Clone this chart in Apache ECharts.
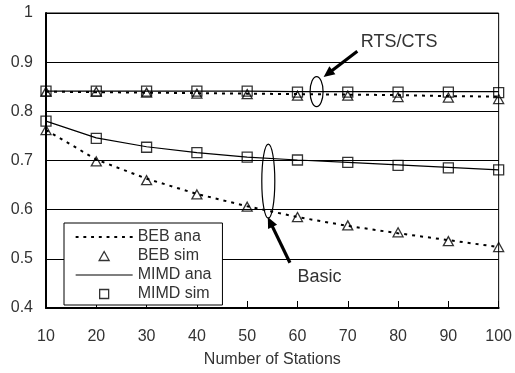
<!DOCTYPE html>
<html>
<head>
<meta charset="utf-8">
<script src="https://cdn.jsdelivr.net/npm/echarts@6/dist/echarts.min.js"></script>
<style>
html,body{margin:0;padding:0;background:#fff;}
#chart{width:515px;height:373px;}
</style>
</head>
<body>
<div id="chart"></div>
<script>
// ---- data ----
const stations = [10, 20, 30, 40, 50, 60, 70, 80, 90, 100];
const yTicks = [0.4, 0.5, 0.6, 0.7, 0.8, 0.9, 1];

// RTS/CTS
const rtsBebAna  = [0.840, 0.839, 0.838, 0.837, 0.836, 0.835, 0.834, 0.833, 0.831, 0.830];
const rtsBebSim  = [0.840, 0.840, 0.838, 0.836, 0.835, 0.832, 0.832, 0.829, 0.828, 0.825];
const rtsMimdAna = [0.841, 0.841, 0.841, 0.841, 0.841, 0.840, 0.840, 0.840, 0.840, 0.840];
const rtsMimdSim = [0.841, 0.841, 0.841, 0.841, 0.841, 0.839, 0.839, 0.839, 0.839, 0.838];

// Basic
const basBebAna  = [0.762, 0.702, 0.663, 0.632, 0.607, 0.585, 0.567, 0.552, 0.538, 0.524];
const basBebSim  = [0.762, 0.698, 0.660, 0.631, 0.606, 0.585, 0.568, 0.554, 0.536, 0.524];
const basMimdAna = [0.780, 0.746, 0.728, 0.716, 0.707, 0.701, 0.696, 0.691, 0.686, 0.681];
const basMimdSim = [0.780, 0.745, 0.727, 0.716, 0.707, 0.701, 0.696, 0.690, 0.685, 0.681];

const legendNames = ['BEB ana', 'BEB sim', 'MIMD ana', 'MIMD sim'];

// annotation anchors (data coordinates)
const rtsLabel = {text: 'RTS/CTS', at: [80.2, 0.940]};
const rtsArrow = {from: [71.9, 0.922], to: [65.2, 0.870]};
const rtsEllipse = {center: [63.8, 0.840], rx: 6.5, ry: 15};
const basLabel = {text: 'Basic', at: [64.4, 0.462]};
const basArrow = {from: [58.5, 0.492], to: [54.1, 0.585]};
const basEllipse = {center: [54.2, 0.658], rx: 6.5, ry: 37};

const pair = arr => stations.map((s, i) => [s, arr[i]]);
const textColor = '#333';
const font = 'Liberation Sans, Arial, sans-serif';

function anaLine(name, arr, dotted) {
  return {
    name, type: 'line', data: pair(arr), symbol: 'none', smooth: false,
    lineStyle: dotted ? {color: '#000', width: 2, type: [3, 5]} : {color: '#000', width: 1.2, type: 'solid'},
    itemStyle: {color: '#000'}, z: 2
  };
}
function simPts(name, arr, sym) {
  return {
    name, type: 'scatter', data: pair(arr), symbol: sym, symbolSize: sym === 'triangle' ? [10, 9] : 10,
    itemStyle: {color: 'rgba(255,255,255,0)', borderColor: '#000', borderWidth: 1.3}, z: 3
  };
}

// legend icon paths, each spanning the full 57x10 legend cell (zero-length corner moves fix the box)
const frame = 'M0,0L0,0M57,10L57,10';
let dots = '';
for (let x = 0; x < 57; x += 8) dots += 'M' + x + ',4h3v2h-3z';
const dottedIcon = 'path://' + frame + dots;
const solidIcon = 'path://' + frame + 'M0,4.4h57v1.2h-57z';
const triIcon = 'path://' + frame + 'M23.5,9.5L28.5,0.5L33.5,9.5Z';
const sqIcon = 'path://' + frame + 'M24,0.5h9v9h-9Z';
const simStyle = {color: 'rgba(255,255,255,0)', borderColor: '#000', borderWidth: 1.3};

const chart = echarts.init(document.getElementById('chart'), null, {renderer: 'canvas'});
const option = {
  animation: false,
  backgroundColor: '#fff',
  textStyle: {fontFamily: font},
  grid: {left: 46, right: 14, top: 13, bottom: 61, show: true, borderColor: '#000', borderWidth: 1, backgroundColor: 'transparent'},
  xAxis: {
    type: 'value', min: 10, max: 100, interval: 10,
    name: 'Number of Stations', nameLocation: 'middle', nameGap: 44,
    nameTextStyle: {color: textColor, fontSize: 16, fontFamily: font},
    axisLine: {lineStyle: {color: '#000', width: 2}},
    axisTick: {show: true, inside: true, length: 7, lineStyle: {color: '#000', width: 1}},
    axisLabel: {color: textColor, fontSize: 16, margin: 21, fontFamily: font},
    splitLine: {show: false}
  },
  yAxis: {
    type: 'value', min: 0.4, max: 1, interval: 0.1,
    axisLine: {show: true, lineStyle: {color: '#000', width: 2}},
    axisTick: {show: false},
    axisLabel: {color: textColor, fontSize: 16, margin: 13, fontFamily: font,
      formatter: v => { const t = yTicks.find(k => Math.abs(k - v) < 1e-6); return t === undefined ? '' : String(t); }},
    splitLine: {show: true, lineStyle: {color: '#000', width: 1}}
  },
  legend: {
    orient: 'vertical', left: 64, top: 223,
    data: [
      {name: legendNames[0], icon: dottedIcon, itemStyle: {color: '#000', borderWidth: 0}},
      {name: legendNames[1], icon: triIcon, itemStyle: simStyle},
      {name: legendNames[2], icon: solidIcon, itemStyle: {color: '#000', borderWidth: 0}},
      {name: legendNames[3], icon: sqIcon, itemStyle: simStyle}
    ],
    itemWidth: 57, itemHeight: 10, itemGap: 3,
    padding: [6, 11, 3, 11],
    borderColor: '#000', borderWidth: 1, backgroundColor: '#fff',
    textStyle: {color: textColor, fontSize: 16, fontFamily: font},
    selectedMode: false, z: 10
  },
  series: [
    anaLine('BEB ana', rtsBebAna, true),
    simPts('BEB sim', rtsBebSim, 'triangle'),
    anaLine('MIMD ana', rtsMimdAna, false),
    simPts('MIMD sim', rtsMimdSim, 'rect'),
    anaLine('BEB ana', basBebAna, true),
    simPts('BEB sim', basBebSim, 'triangle'),
    anaLine('MIMD ana', basMimdAna, false),
    simPts('MIMD sim', basMimdSim, 'rect')
  ]
};
chart.setOption(option);

function px(p) { return chart.convertToPixel({gridIndex: 0}, p); }
function arrow(a) {
  const f = px(a.from), t = px(a.to);
  const dx = t[0] - f[0], dy = t[1] - f[1], L = Math.hypot(dx, dy);
  const ux = dx / L, uy = dy / L, hl = 11, hw = 5;
  const bx = t[0] - ux * hl, by = t[1] - uy * hl;
  return [
    {type: 'line', shape: {x1: f[0], y1: f[1], x2: bx + ux * 2, y2: by + uy * 2}, style: {stroke: '#000', lineWidth: 3.2}, z: 20},
    {type: 'polygon', shape: {points: [[t[0], t[1]], [bx - uy * hw, by + ux * hw], [bx + uy * hw, by - ux * hw]]}, style: {fill: '#000'}, z: 20}
  ];
}
function ell(e) {
  const c = px(e.center);
  return {type: 'ellipse', shape: {cx: c[0], cy: c[1], rx: e.rx, ry: e.ry}, style: {fill: 'rgba(255,255,255,0)', stroke: '#000', lineWidth: 1.2}, z: 20};
}
function label(l) {
  const c = px(l.at);
  return {type: 'text', x: c[0], y: c[1], style: {text: l.text, fill: textColor, font: '18px ' + font, align: 'center', verticalAlign: 'middle'}, z: 20};
}
chart.setOption({
  graphic: [].concat(arrow(rtsArrow), arrow(basArrow), [ell(rtsEllipse), ell(basEllipse), label(rtsLabel), label(basLabel)])
});
</script>
</body>
</html>
